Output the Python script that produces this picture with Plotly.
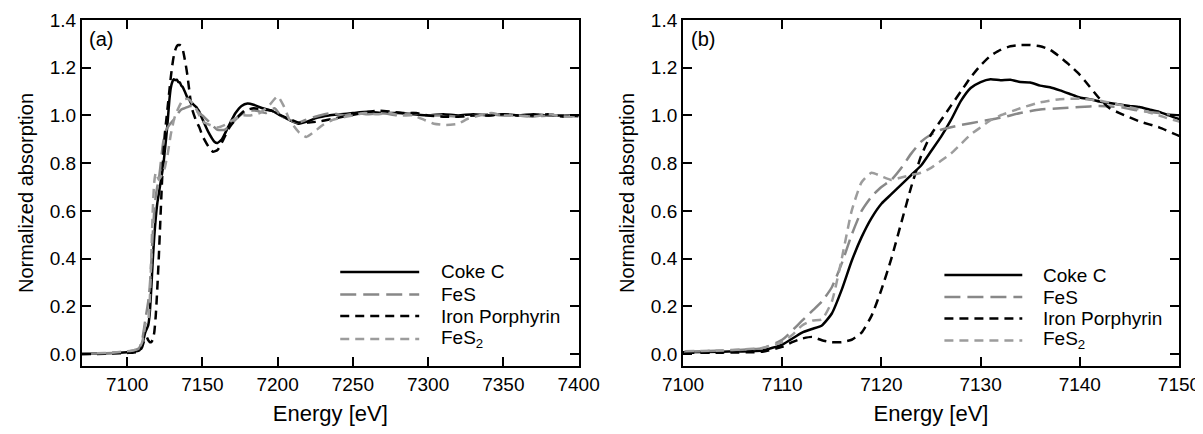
import plotly.graph_objects as go

# Fe K-edge XANES, normalized absorption
coke_energy = [7070, 7080, 7090, 7100, 7104, 7108, 7110, 7112, 7113, 7114, 7115, 7116, 7117, 7118,
               7119, 7120, 7121, 7122, 7123, 7124, 7125, 7126, 7127, 7128, 7129, 7130, 7131, 7132,
               7133, 7134, 7135, 7136, 7137, 7138, 7139, 7140, 7141, 7142, 7143, 7144, 7145, 7146,
               7147, 7148, 7149, 7150, 7154, 7158, 7160, 7163, 7167, 7172, 7176, 7180, 7184, 7190,
               7196, 7202, 7208, 7214, 7220, 7226, 7234, 7242, 7250, 7260, 7270, 7280, 7290, 7300,
               7310, 7320, 7330, 7340, 7350, 7360, 7370, 7380, 7390, 7400]
coke_abs = [0.0, 0.002, 0.004, 0.008, 0.01, 0.015, 0.04, 0.09, 0.105, 0.12, 0.17, 0.27, 0.39, 0.49,
            0.57, 0.63, 0.67, 0.71, 0.75, 0.79, 0.85, 0.91, 0.98, 1.06, 1.115, 1.14, 1.152, 1.148,
            1.15, 1.14, 1.138, 1.125, 1.118, 1.105, 1.09, 1.075, 1.068, 1.058, 1.052, 1.046, 1.04, 1.035,
            1.025, 1.015, 1.0, 0.985, 0.93, 0.89, 0.885, 0.9, 0.95, 1.01, 1.04, 1.05, 1.045, 1.03,
            1.02, 1.0, 0.98, 0.965, 0.975, 0.99, 1.0, 1.005, 1.01, 1.015, 1.01, 1.01, 1.005, 1.0,
            1.005, 1.0, 1.005, 1.0, 1.005, 1.0, 1.005, 1.0, 1.0, 1.0]

fes_energy = [7070, 7080, 7090, 7100, 7104, 7106, 7108, 7110, 7112, 7113, 7114, 7115, 7116, 7117,
              7118, 7119, 7120, 7121, 7122, 7123, 7124, 7125, 7126, 7128, 7130, 7132, 7134, 7136,
              7138, 7140, 7142, 7144, 7146, 7148, 7150, 7155, 7160, 7165, 7170, 7175, 7180, 7186,
              7192, 7198, 7202, 7208, 7214, 7220, 7228, 7236, 7244, 7252, 7260, 7270, 7280, 7290,
              7300, 7310, 7320, 7330, 7340, 7350, 7360, 7370, 7380, 7390, 7400]
fes_abs = [0.0, 0.002, 0.005, 0.01, 0.015, 0.018, 0.025, 0.06, 0.14, 0.18, 0.22, 0.28, 0.38, 0.5,
           0.6, 0.66, 0.7, 0.73, 0.78, 0.84, 0.89, 0.92, 0.94, 0.96, 0.975, 0.99, 1.01, 1.025,
           1.03, 1.035, 1.04, 1.035, 1.02, 1.01, 1.0, 0.97, 0.94, 0.94, 0.97, 1.0, 1.02, 1.02,
           1.01, 1.03, 1.0, 0.98, 0.97, 0.985, 1.0, 1.01, 1.0, 1.01, 1.005, 1.01, 1.0, 1.01,
           1.0, 1.0, 0.995, 1.0, 1.005, 1.0, 1.0, 0.995, 1.0, 1.0, 0.995]

porph_energy = [7070, 7080, 7090, 7100, 7104, 7108, 7110, 7111, 7112, 7113, 7114, 7115, 7116, 7117,
                7118, 7119, 7120, 7121, 7122, 7123, 7124, 7125, 7126, 7127, 7128, 7129, 7130, 7131,
                7132, 7133, 7134, 7135, 7136, 7137, 7138, 7139, 7140, 7141, 7142, 7143, 7144, 7146,
                7148, 7150, 7154, 7157, 7160, 7164, 7168, 7173, 7178, 7184, 7190, 7196, 7202, 7208,
                7214, 7220, 7228, 7236, 7244, 7252, 7260, 7268, 7276, 7284, 7292, 7300, 7310, 7320,
                7330, 7340, 7350, 7360, 7370, 7380, 7390, 7400]
porph_abs = [0.0, 0.0, 0.002, 0.005, 0.006, 0.01, 0.03, 0.05, 0.065, 0.072, 0.058, 0.05, 0.05, 0.06,
             0.09, 0.16, 0.27, 0.4, 0.55, 0.7, 0.83, 0.92, 0.98, 1.04, 1.1, 1.16, 1.21, 1.25,
             1.275, 1.29, 1.295, 1.295, 1.29, 1.275, 1.245, 1.21, 1.17, 1.12, 1.07, 1.03, 1.01, 0.975,
             0.95, 0.915, 0.87, 0.848, 0.855, 0.9, 0.95, 0.99, 1.02, 1.03, 1.025, 1.02, 1.0, 0.985,
             0.97, 0.97, 0.975, 0.985, 0.995, 1.005, 1.015, 1.02, 1.015, 1.01, 1.01, 1.0, 0.995, 0.995,
             1.0, 1.0, 1.005, 1.0, 1.0, 1.005, 0.995, 1.0]

fes2_energy = [7070, 7080, 7090, 7100, 7104, 7106, 7108, 7110, 7111, 7112, 7113, 7114, 7115, 7116,
               7117, 7118, 7119, 7120, 7121, 7122, 7123, 7124, 7125, 7126, 7127, 7128, 7129, 7130,
               7131, 7132, 7134, 7136, 7138, 7140, 7142, 7144, 7146, 7148, 7150, 7155, 7160, 7165,
               7170, 7176, 7182, 7188, 7194, 7200, 7204, 7208, 7214, 7219, 7224, 7230, 7236, 7242,
               7250, 7258, 7266, 7274, 7282, 7290, 7298, 7304, 7312, 7320, 7326, 7334, 7342, 7350,
               7360, 7370, 7380, 7390, 7400]
fes2_abs = [0.0, 0.003, 0.006, 0.012, 0.015, 0.02, 0.025, 0.05, 0.08, 0.12, 0.14, 0.145, 0.22, 0.4,
            0.6, 0.72, 0.76, 0.745, 0.73, 0.74, 0.75, 0.76, 0.78, 0.81, 0.84, 0.88, 0.92, 0.95,
            0.98, 1.0, 1.03, 1.055, 1.068, 1.07, 1.062, 1.045, 1.025, 1.0, 0.975, 0.96, 0.95, 0.96,
            0.98, 1.0, 1.0, 1.01, 1.04, 1.08, 1.04, 0.98, 0.93, 0.91, 0.93, 0.96, 0.98, 0.99,
            1.0, 1.01, 1.005, 1.01, 1.0, 1.0, 0.98, 0.965, 0.96, 0.965, 0.985, 1.0, 1.01, 1.0,
            1.0, 0.995, 1.005, 0.995, 0.995]

series_names = ["Coke C", "FeS", "Iron Porphyrin", "FeS<sub>2</sub>"]
series_data = [(coke_energy, coke_abs), (fes_energy, fes_abs),
               (porph_energy, porph_abs), (fes2_energy, fes2_abs)]
series_style = [dict(color="#000000", dash="solid"),
                dict(color="#888888", dash="16px,7px"),
                dict(color="#000000", dash="9px,6px"),
                dict(color="#9c9c9c", dash="9px,6px")]

panel_labels = ["(a)", "(b)"]
panel_xranges = [[7070, 7400], [7100, 7150]]
panel_xticks = [list(range(7100, 7401, 50)), list(range(7100, 7151, 10))]

FONT = "Arial, Liberation Sans, sans-serif"
LW = 2.5

fig = go.Figure()

axes = [("x", "y"), ("x2", "y2")]
for p, (xa, ya) in enumerate(axes):
    for name, (e, a), st in zip(series_names, series_data, series_style):
        fig.add_trace(go.Scatter(x=e, y=a, mode="lines", name=name, showlegend=False,
                                 line=dict(color=st["color"], dash=st["dash"], width=LW,
                                           shape="spline", smoothing=0.5),
                                 xaxis=xa, yaxis=ya))

axis_common = dict(showline=True, linecolor="black", linewidth=2, mirror="ticks",
                   ticks="inside", ticklen=9, tickwidth=2, tickcolor="black",
                   showgrid=False, zeroline=False, automargin=False,
                   ticklabeloverflow="allow",
                   tickfont=dict(size=19, color="black", family=FONT))
xtitle_font = dict(size=22, color="black", family=FONT)
ytitle_font = dict(size=20, color="black", family=FONT)

fig.update_layout(
    xaxis=dict(domain=[0, 0.4527], range=panel_xranges[0], tickvals=panel_xticks[0],
               title=dict(text="Energy [eV]", standoff=12, font=xtitle_font), anchor="y", **axis_common),
    xaxis2=dict(domain=[0.5479, 1], range=panel_xranges[1], tickvals=panel_xticks[1],
                title=dict(text="Energy [eV]", standoff=12, font=xtitle_font), anchor="y2", **axis_common),
    yaxis=dict(domain=[0, 1], range=[-0.05, 1.4], dtick=0.2, tick0=0, tickformat=".1f",
               title=dict(text="Normalized absorption", standoff=11, font=ytitle_font),
               anchor="x", **axis_common),
    yaxis2=dict(domain=[0, 1], range=[-0.05, 1.4], dtick=0.2, tick0=0, tickformat=".1f",
                title=dict(text="Normalized absorption", standoff=11, font=ytitle_font),
                anchor="x2", **axis_common),
)

# panel tags and hand-drawn legends (long line keys as in the original)
legend_rows = [[0.2717, 0.2066, 0.1445, 0.078], [0.263, 0.1994, 0.1373, 0.0737]]
legend_key_x = [[0.520, 0.679, 0.718], [0.527, 0.684, 0.722]]
for p, (xa, ya) in enumerate(axes):
    xd, yd = f"{xa} domain", f"{ya} domain"
    fig.add_annotation(text=panel_labels[p], xref=xd, yref=yd, x=0.011, y=0.945,
                       xanchor="left", yanchor="middle", showarrow=False,
                       font=dict(size=20, color="black", family=FONT))
    x0, x1, xt = legend_key_x[p]
    for name, st, yy in zip(series_names, series_style, legend_rows[p]):
        fig.add_shape(type="line", xref=xd, yref=yd, x0=x0, x1=x1, y0=yy, y1=yy,
                      line=dict(color=st["color"], dash=st["dash"], width=LW))
        fig.add_annotation(text=name, xref=xd, yref=yd, x=xt, y=yy,
                           xanchor="left", yanchor="middle", showarrow=False,
                           font=dict(size=19, color="black", family=FONT))

# page body adds an 8px offset; size the figure so it ends at the window edge
fig.update_layout(width=1195, height=426, margin=dict(l=74, r=24, t=12, b=68),
                  paper_bgcolor="white", plot_bgcolor="white",
                  font=dict(family=FONT, color="black"))

fig.write_html("out.html")
